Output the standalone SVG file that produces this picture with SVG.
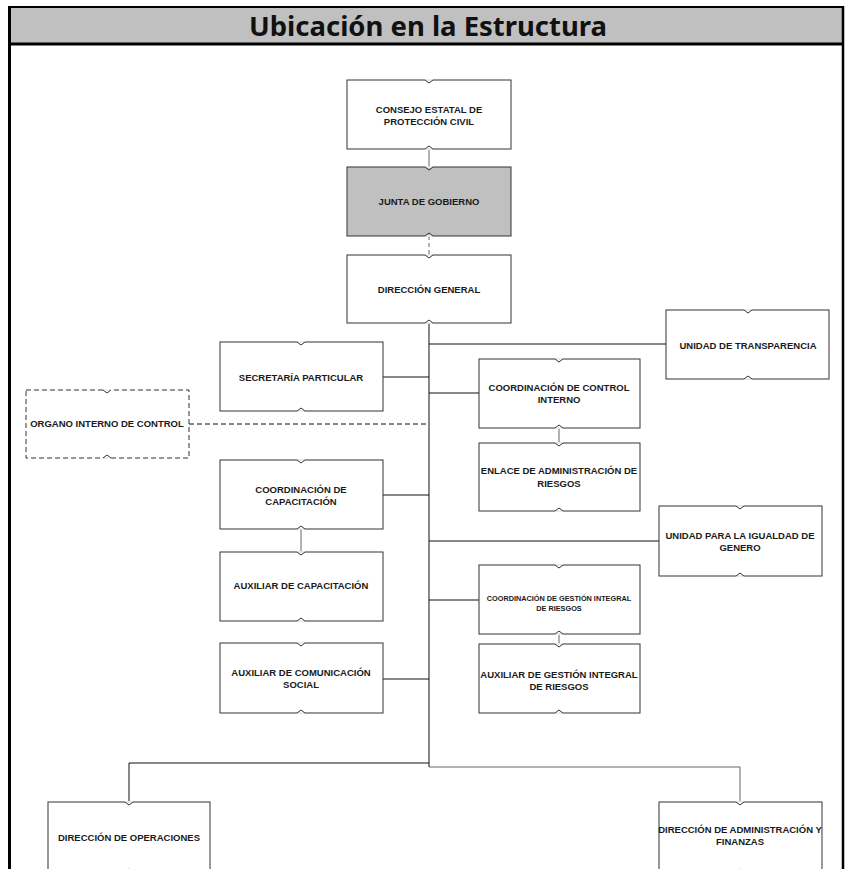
<svg xmlns="http://www.w3.org/2000/svg" xmlns:xlink="http://www.w3.org/1999/xlink" width="849" height="869" viewBox="0 0 849 869">
<style>
.bx{fill:#ffffff;stroke:#333333;stroke-width:1}
.gr{fill:#c0c0c0}
.ds{stroke-dasharray:5 3}
.t{font-family:"Liberation Sans",Arial,sans-serif;font-weight:bold;font-size:9.5px;fill:#1a1a1a;text-anchor:middle}
.sm{font-size:7.3px}
.c{fill:none;stroke:#111111;stroke-width:1}
.cg{fill:none;stroke:#666666;stroke-width:1}
.title{font-family:"Noto Sans","Open Sans",sans-serif;font-weight:bold;font-size:27px;fill:#111111;text-anchor:middle}
</style>
<defs>
<g id="nt"><line x1="-4" y1="0" x2="4" y2="0" stroke="#ffffff" stroke-width="1.6"/><polyline points="-4,0 0,3 4,0" fill="none" stroke="#333333" stroke-width="1"/></g>
<g id="nb"><line x1="-4" y1="0" x2="4" y2="0" stroke="#ffffff" stroke-width="1.6"/><polyline points="-4,0 0,-3 4,0" fill="none" stroke="#333333" stroke-width="1"/></g>
</defs>
<rect x="0" y="0" width="849" height="869" fill="#ffffff"/>
<g id="frame">
<rect x="9" y="7" width="834" height="37" fill="#c0c0c0"/>
<line x1="9" y1="7" x2="843" y2="7" stroke="#000" stroke-width="2"/>
<line x1="9" y1="44" x2="843" y2="44" stroke="#000" stroke-width="3"/>
<line x1="9.5" y1="6" x2="9.5" y2="869" stroke="#000" stroke-width="3"/>
<line x1="843" y1="6" x2="843" y2="869" stroke="#000" stroke-width="2.5"/>
<text class="title" x="428" y="35.5" textLength="358" lengthAdjust="spacingAndGlyphs">Ubicación en la Estructura</text>
</g>
<g id="connectors">
<line class="cg" x1="429" y1="149" x2="429" y2="167"/>
<line class="cg" x1="429" y1="236" x2="429" y2="255" stroke-dasharray="4 3"/>
<line class="c" x1="429" y1="323" x2="429" y2="767" stroke-width="1.6"/>
<line class="c" x1="429" y1="344" x2="666" y2="344"/>
<line class="c" x1="383" y1="377" x2="429" y2="377"/>
<line class="c" x1="429" y1="393" x2="479" y2="393"/>
<line class="c ds" x1="189" y1="424" x2="429" y2="424"/>
<line class="cg" x1="559" y1="428" x2="559" y2="443"/>
<line class="c" x1="383" y1="495" x2="429" y2="495"/>
<line class="c" x1="429" y1="541" x2="659" y2="541"/>
<line class="cg" x1="301" y1="529" x2="301" y2="552"/>
<line class="c" x1="429" y1="600" x2="479" y2="600"/>
<line class="cg" x1="559" y1="634" x2="559" y2="644"/>
<line class="c" x1="383" y1="679" x2="429" y2="679"/>
<polyline class="c" points="429,763 129,763 129,802"/>
<polyline class="cg" points="429,767 740,767 740,802"/>
</g>
<g id="consejo"><rect class="bx" x="347" y="80" width="164" height="69"/><use xlink:href="#nt" x="429" y="80"/><use xlink:href="#nb" x="429" y="149"/>
<text class="t" x="429" y="112.5">CONSEJO ESTATAL DE</text><text class="t" x="429" y="124.5">PROTECCIÓN CIVIL</text></g>
<g id="junta"><rect class="bx gr" x="347" y="167" width="164" height="69"/><use xlink:href="#nt" x="429" y="167"/><use xlink:href="#nb" x="429" y="236"/>
<text class="t" x="429" y="205">JUNTA DE GOBIERNO</text></g>
<g id="direccion-general"><rect class="bx" x="347" y="255" width="164" height="68"/><use xlink:href="#nt" x="429" y="255"/><use xlink:href="#nb" x="429" y="323"/>
<text class="t" x="429" y="292.5">DIRECCIÓN GENERAL</text></g>
<g id="transparencia"><rect class="bx" x="666" y="310" width="163" height="69"/><use xlink:href="#nt" x="748" y="310"/><use xlink:href="#nb" x="748" y="379"/>
<text class="t" x="748" y="348.5">UNIDAD DE TRANSPARENCIA</text></g>
<g id="secretaria"><rect class="bx" x="220" y="342" width="163" height="69"/><use xlink:href="#nt" x="301" y="342"/><use xlink:href="#nb" x="301" y="411"/>
<text class="t" x="301" y="380.5">SECRETARÍA PARTICULAR</text></g>
<g id="control-interno"><rect class="bx" x="479" y="359" width="161" height="69"/><use xlink:href="#nt" x="559" y="359"/><use xlink:href="#nb" x="559" y="428"/>
<text class="t" x="559" y="391">COORDINACIÓN DE CONTROL</text><text class="t" x="559" y="403">INTERNO</text></g>
<g id="organo"><rect class="bx ds" x="26" y="390" width="163" height="68"/><use xlink:href="#nt" x="107" y="390"/><use xlink:href="#nb" x="107" y="458"/>
<text class="t" x="107" y="427">ORGANO INTERNO DE CONTROL</text></g>
<g id="enlace"><rect class="bx" x="479" y="443" width="161" height="68"/><use xlink:href="#nt" x="559" y="443"/><use xlink:href="#nb" x="559" y="511"/>
<text class="t" x="559" y="474">ENLACE DE ADMINISTRACIÓN DE</text><text class="t" x="559" y="486.5">RIESGOS</text></g>
<g id="coord-capacitacion"><rect class="bx" x="220" y="460" width="163" height="69"/><use xlink:href="#nt" x="301" y="460"/><use xlink:href="#nb" x="301" y="529"/>
<text class="t" x="301" y="492.5">COORDINACIÓN DE</text><text class="t" x="301" y="504.5">CAPACITACIÓN</text></g>
<g id="igualdad"><rect class="bx" x="659" y="506" width="163" height="70"/><use xlink:href="#nt" x="740" y="506"/><use xlink:href="#nb" x="740" y="576"/>
<text class="t" x="740" y="538.5">UNIDAD PARA LA IGUALDAD DE</text><text class="t" x="740" y="551">GENERO</text></g>
<g id="aux-capacitacion"><rect class="bx" x="220" y="552" width="163" height="69"/><use xlink:href="#nt" x="301" y="552"/><use xlink:href="#nb" x="301" y="621"/>
<text class="t" x="301" y="588.5">AUXILIAR DE CAPACITACIÓN</text></g>
<g id="coord-gestion"><rect class="bx" x="479" y="565" width="161" height="69"/><use xlink:href="#nt" x="559" y="565"/><use xlink:href="#nb" x="559" y="634"/>
<text class="t sm" x="559" y="600.5">COORDINACIÓN DE GESTIÓN INTEGRAL</text><text class="t sm" x="559" y="610.5">DE RIESGOS</text></g>
<g id="aux-comunicacion"><rect class="bx" x="220" y="643" width="163" height="70"/><use xlink:href="#nt" x="301" y="643"/><use xlink:href="#nb" x="301" y="713"/>
<text class="t" x="301" y="675.5">AUXILIAR DE COMUNICACIÓN</text><text class="t" x="301" y="688">SOCIAL</text></g>
<g id="aux-gestion"><rect class="bx" x="479" y="644" width="161" height="69"/><use xlink:href="#nt" x="559" y="644"/><use xlink:href="#nb" x="559" y="713"/>
<text class="t" x="559" y="677.5">AUXILIAR DE GESTIÓN INTEGRAL</text><text class="t" x="559" y="690">DE RIESGOS</text></g>
<g id="operaciones"><rect class="bx" x="48" y="802" width="162" height="70"/><use xlink:href="#nt" x="129" y="802"/><use xlink:href="#nb" x="129" y="872"/>
<text class="t" x="129" y="840.5">DIRECCIÓN DE OPERACIONES</text></g>
<g id="administracion"><rect class="bx" x="659" y="802" width="163" height="70"/><use xlink:href="#nt" x="740" y="802"/><use xlink:href="#nb" x="740" y="872"/>
<text class="t" x="740" y="832.5">DIRECCIÓN DE ADMINISTRACIÓN Y</text><text class="t" x="740" y="845">FINANZAS</text></g>
</svg>
